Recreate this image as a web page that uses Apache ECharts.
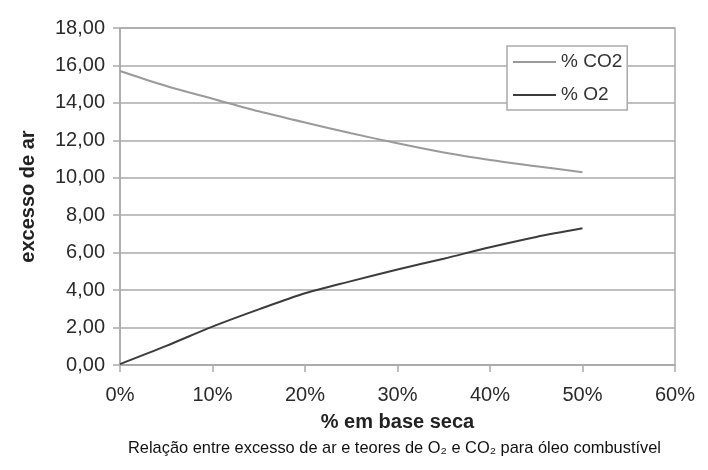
<!DOCTYPE html>
<html>
<head>
<meta charset="utf-8">
<script src="https://cdn.jsdelivr.net/npm/echarts@6/dist/echarts.min.js"></script>
<style>
html,body{margin:0;padding:0;background:#fff;}
#chart{width:708px;height:470px;}
</style>
</head>
<body>
<div id="chart"></div>
<script>
// Data
var excessPct = [0, 5, 10, 15, 20, 25, 30, 35, 40, 45, 50];
var co2 = [15.70, 14.90, 14.22, 13.55, 12.95, 12.38, 11.84, 11.35, 10.95, 10.62, 10.30];
var o2 = [0.05, 1.02, 2.05, 2.97, 3.83, 4.48, 5.10, 5.68, 6.29, 6.84, 7.30];
var seriesNames = ['% CO2', '% O2'];
var xTitle = '% em base seca';
var yTitle = 'excesso de ar';
var caption = 'Relação entre excesso de ar e teores de O\u2082 e CO\u2082 para óleo combustível';

function pairs(xs, ys) { return xs.map(function (x, i) { return [x, ys[i]]; }); }

var FONT = '"Liberation Sans", Arial, sans-serif';
var chart = echarts.init(document.getElementById('chart'), null, {renderer: 'canvas'});
chart.setOption({
  backgroundColor: '#ffffff',
  animation: false,
  textStyle: {fontFamily: FONT},
  grid: {
    left: 120, right: 33, top: 28, bottom: 105,
    show: true, borderColor: '#aaaaaa', borderWidth: 1.5, backgroundColor: 'transparent'
  },
  legend: {
    orient: 'vertical',
    left: 507, top: 46,
    padding: [6, 5, 5, 6],
    icon: 'rect',
    itemWidth: 43, itemHeight: 2, itemGap: 13,
    backgroundColor: '#fff',
    borderColor: '#aaaaaa', borderWidth: 1.5, borderRadius: 0,
    textStyle: {fontFamily: FONT, fontSize: 19, color: '#333', lineHeight: 20},
    data: seriesNames
  },
  xAxis: {
    type: 'value', min: 0, max: 60, interval: 10,
    name: xTitle, nameLocation: 'middle', nameGap: 47,
    nameTextStyle: {fontFamily: FONT, fontSize: 20, fontWeight: 'bold', color: '#222'},
    axisLine: {show: true, lineStyle: {color: '#aaaaaa', width: 1.5}},
    axisTick: {show: true, length: 7, lineStyle: {color: '#aaaaaa', width: 1.5}},
    axisLabel: {fontFamily: FONT, fontSize: 20, color: '#2a2a2a', margin: 20,
      formatter: function (v) { return v + '%'; }},
    splitLine: {show: false}
  },
  yAxis: {
    type: 'value', min: 0, max: 18, interval: 2,
    name: yTitle, nameLocation: 'middle', nameGap: 82, nameRotate: 90,
    nameTextStyle: {fontFamily: FONT, fontSize: 20, fontWeight: 'bold', color: '#222'},
    axisLine: {show: true, lineStyle: {color: '#aaaaaa', width: 1.5}},
    axisTick: {show: true, length: 7, lineStyle: {color: '#aaaaaa', width: 1.5}},
    axisLabel: {fontFamily: FONT, fontSize: 20, color: '#2a2a2a', margin: 15,
      formatter: function (v) { return v.toFixed(2).replace('.', ','); }},
    splitLine: {show: true, lineStyle: {color: '#aaaaaa', width: 1.5}}
  },
  series: [
    {name: seriesNames[0], type: 'line', data: pairs(excessPct, co2), smooth: 0.3,
      symbol: 'none', lineStyle: {color: '#9a9a9a', width: 2}, itemStyle: {color: '#9a9a9a'}},
    {name: seriesNames[1], type: 'line', data: pairs(excessPct, o2), smooth: 0.3,
      symbol: 'none', lineStyle: {color: '#3c3c3c', width: 2}, itemStyle: {color: '#3c3c3c'}}
  ],
  graphic: [{
    type: 'text', left: 128, top: 440,
    style: {text: caption, fontFamily: FONT, fontSize: 16.4, fill: '#111'}
  }]
});
</script>
</body>
</html>
